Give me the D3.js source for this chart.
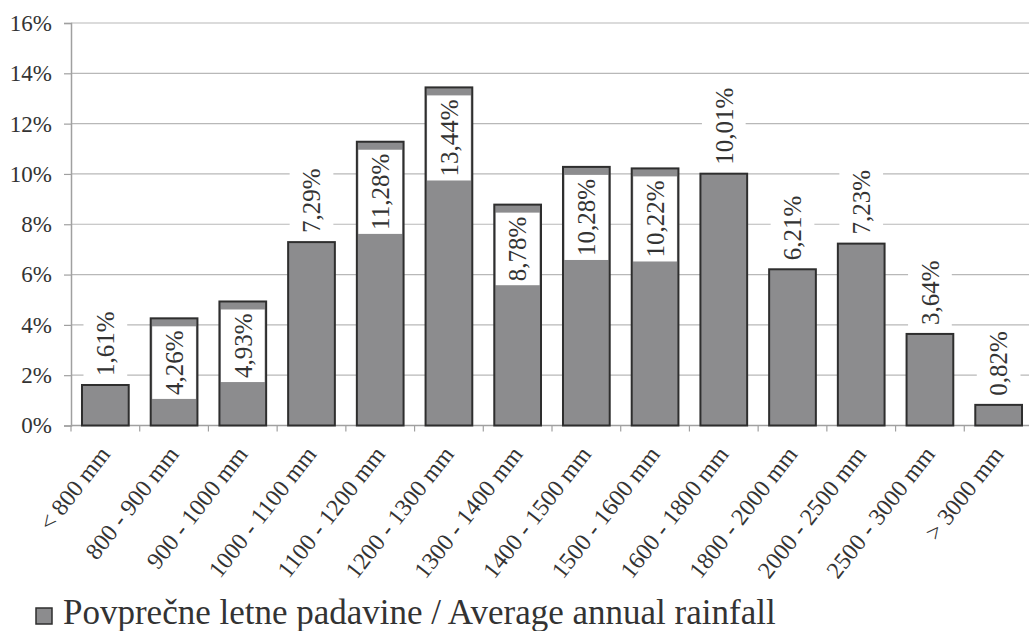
<!DOCTYPE html>
<html>
<head>
<meta charset="utf-8">
<script src="https://cdn.jsdelivr.net/npm/d3@7"></script>
<style>
  body { margin: 0; background: #fff; }
</style>
</head>
<body>
<div id="chart"></div>
<script>
const WIDTH = 1029;
const HEIGHT = 631;
const FONT = "Liberation Serif";

const categories = ["< 800 mm", "800 - 900 mm", "900 - 1000 mm", "1000 - 1100 mm", "1100 - 1200 mm",
    "1200 - 1300 mm", "1300 - 1400 mm", "1400 - 1500 mm", "1500 - 1600 mm", "1600 - 1800 mm",
    "1800 - 2000 mm", "2000 - 2500 mm", "2500 - 3000 mm", "> 3000 mm"];
const values = [1.61, 4.26, 4.93, 7.29, 11.28, 13.44, 8.78, 10.28, 10.22, 10.01, 6.21, 7.23, 3.64, 0.82];
// true where the label sits inside the bar top
const labelInside = [false, true, true, false, true, true, true, true, true, false, false, false, false, false];
const yTicks = [0, 2, 4, 6, 8, 10, 12, 14, 16];
const seriesName = "Povprečne letne padavine / Average annual rainfall";

const plotLeft = 71, plotRight = 1033, plotTop = 23, plotBottom = 425.5;

const svg = d3.select("#chart")
    .append("svg")
        .attr("width", WIDTH)
        .attr("height", HEIGHT)
        .attr("font-family", FONT);

const x = d3.scaleBand()
    .domain(categories)
    .range([plotLeft, plotRight])
    .paddingInner(0.32)
    .paddingOuter(0.16);

const y = d3.scaleLinear()
    .domain([0, 16])
    .range([plotBottom, plotTop]);

// gridlines
svg.append("g")
    .selectAll("line")
    .data(yTicks.slice(1))
    .enter()
    .append("line")
        .attr("x1", plotLeft)
        .attr("x2", plotRight)
        .attr("y1", d => y(d))
        .attr("y2", d => y(d))
        .attr("stroke", "#b8b8b8")
        .attr("stroke-width", 1.2);

// y axis
const yAxis = svg.append("g")
    .attr("transform", `translate(${plotLeft},0)`)
    .call(d3.axisLeft(y).tickValues(yTicks).tickFormat(d => d + "%").tickSize(7).tickPadding(12))
    .attr("font-family", FONT);
yAxis.select(".domain").attr("stroke", "#a0a0a0").attr("stroke-width", 1.5);
yAxis.selectAll(".tick line").attr("stroke", "#a0a0a0").attr("stroke-width", 1.2);
yAxis.selectAll(".tick text")
    .attr("font-size", 23)
    .attr("font-family", FONT)
    .attr("fill", "#333");

// x axis line with ticks at category boundaries
const step = x.step();
const boundaries = categories.map((c, i) => plotLeft + i * step).concat([plotRight]);
svg.append("line")
    .attr("x1", plotLeft).attr("x2", plotRight)
    .attr("y1", plotBottom).attr("y2", plotBottom)
    .attr("stroke", "#a0a0a0").attr("stroke-width", 1.5);
svg.append("g")
    .selectAll("line")
    .data(boundaries)
    .enter()
    .append("line")
        .attr("x1", d => d).attr("x2", d => d)
        .attr("y1", plotBottom).attr("y2", plotBottom + 6)
        .attr("stroke", "#a0a0a0").attr("stroke-width", 1.2);

// bars
svg.append("g")
    .selectAll("rect")
    .data(values)
    .enter()
    .append("rect")
        .attr("x", (d, i) => x(categories[i]))
        .attr("width", x.bandwidth())
        .attr("y", d => y(d))
        .attr("height", d => plotBottom - y(d))
        .attr("fill", "#8c8c8e")
        .attr("stroke", "#2e2e2e")
        .attr("stroke-width", 2);

// data labels with white box
const labels = svg.append("g");
values.forEach((v, i) => {
    const cx = x(categories[i]) + x.bandwidth() / 2;
    const g = labels.append("g");
    const txt = g.append("text")
        .text(v.toFixed(2).replace(".", ",") + "%")
        .attr("font-family", FONT)
        .attr("font-size", 25)
        .attr("fill", "#333")
        .attr("dy", "0.35em");
    const len = txt.node().getComputedTextLength();
    const boxH = len + 8;
    const boxW = x.bandwidth() - 3;
    let boxTop;
    if (labelInside[i]) {
        boxTop = y(v) + 8;
    } else {
        boxTop = y(v) - 5 - boxH;
    }
    const midY = boxTop + boxH / 2;
    g.insert("rect", "text")
        .attr("x", cx - boxW / 2)
        .attr("y", boxTop)
        .attr("width", boxW)
        .attr("height", boxH)
        .attr("fill", "#fff");
    txt.attr("text-anchor", "middle")
        .attr("transform", `translate(${cx},${midY}) rotate(-90)`);
});

// x labels
svg.append("g")
    .selectAll("text")
    .data(categories)
    .enter()
    .append("text")
        .attr("text-anchor", "end")
        .attr("font-family", FONT)
        .attr("font-size", 24)
        .attr("fill", "#333")
        .attr("transform", d => `translate(${x(d) + x.bandwidth() / 2 + 6},${plotBottom + 29}) rotate(-52)`)
        .text(d => d);

// legend
svg.append("rect")
    .attr("x", 36).attr("y", 608)
    .attr("width", 16).attr("height", 16)
    .attr("fill", "#8c8c8e")
    .attr("stroke", "#2e2e2e")
    .attr("stroke-width", 1.5);
svg.append("text")
    .attr("x", 63).attr("y", 624)
    .attr("font-family", FONT)
    .attr("font-size", 35)
    .attr("fill", "#333")
    .text(seriesName);
</script>
</body>
</html>
